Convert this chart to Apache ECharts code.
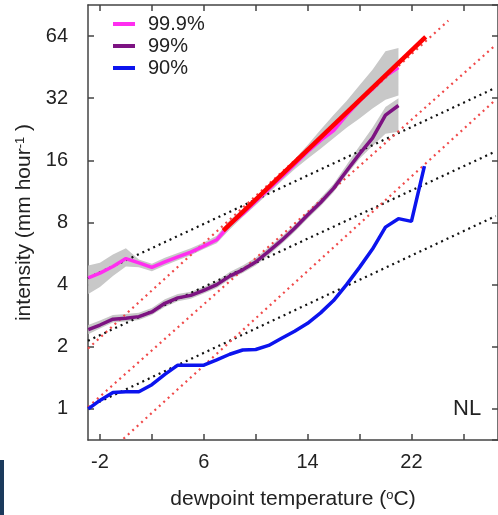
<!DOCTYPE html>
<html>
<head>
<meta charset="utf-8">
<script src="https://cdn.jsdelivr.net/npm/echarts@6/dist/echarts.min.js"></script>
<style>
html,body{margin:0;padding:0;background:#fff;}
#chart{width:498px;height:515px;}
</style>
</head>
<body>
<div id="chart"></div>
<script>
var FONT = 'Liberation Sans, Arial, sans-serif';

// 99.9% percentile
var temp999 = [-2.9, -2, -1, 0, 1, 2, 3, 4, 5, 6, 7, 8, 9, 10, 11, 12, 13, 14, 15, 16, 17, 18, 19, 20, 21];
var p999 = [4.31, 4.55, 4.9, 5.35, 5.1, 4.85, 5.15, 5.45, 5.75, 6.15, 6.6, 7.8, 8.8, 10.1, 11.6, 13.3, 15.3, 17.6, 20.0, 22.3, 26.5, 31, 35.5, 41, 45];
var low999 = [3.6, 3.9, 4.4, 4.9, 4.85, 4.65, 4.95, 5.25, 5.55, 5.95, 6.35, 7.4, 8.5, 9.7, 11.1, 12.7, 14.5, 16.3, 18.2, 20.5, 23, 25.5, 28.5, 31.5, 33];
var upp999 = [4.95, 5.1, 5.6, 6.0, 5.3, 5.05, 5.4, 5.7, 6.0, 6.4, 6.9, 8.2, 9.3, 10.6, 12.2, 14.0, 16.2, 19.0, 22.5, 26.5, 31, 37, 44, 54, 56];

// 99% percentile
var temp99 = [-2.9, -2, -1, 0, 1, 2, 3, 4, 5, 6, 7, 8, 9, 10, 11, 12, 13, 14, 15, 16, 17, 18, 19, 20, 21];
var p99 = [2.42, 2.55, 2.72, 2.75, 2.8, 2.95, 3.25, 3.45, 3.55, 3.75, 4.0, 4.4, 4.72, 5.15, 5.8, 6.55, 7.5, 8.7, 10.0, 11.7, 14.2, 17.2, 20.5, 26.5, 29.5];
var low99 = [2.3, 2.45, 2.62, 2.65, 2.7, 2.85, 3.12, 3.32, 3.42, 3.62, 3.85, 4.25, 4.55, 4.95, 5.55, 6.3, 7.2, 8.35, 9.6, 11.2, 13.6, 16.3, 18.8, 21.5, 22];
var upp99 = [2.55, 2.68, 2.85, 2.88, 2.92, 3.08, 3.4, 3.6, 3.7, 3.9, 4.17, 4.6, 4.95, 5.4, 6.05, 6.85, 7.8, 9.05, 10.5, 12.3, 15.2, 18.8, 23, 29, 32];

// 90% percentile
var temp90 = [-2.9, -2, -1, 0, 1, 2, 3, 4, 5, 6, 7, 8, 9, 10, 11, 12, 13, 14, 15, 16, 17, 18, 19, 20, 21, 22, 23];
var p90 = [1.0, 1.1, 1.2, 1.21, 1.21, 1.31, 1.47, 1.63, 1.63, 1.63, 1.73, 1.84, 1.93, 1.94, 2.03, 2.2, 2.38, 2.6, 2.92, 3.35, 4.0, 4.85, 5.95, 7.6, 8.35, 8.1, 15];

// fitted line on the 99.9% curve
var fitTemp = [7.5, 23.1];
var fitVal = [7.3, 63.5];

// reference scaling lines (black: ~7%/degC, red: ~14%/degC)
var refTemp = [-2.92, 28.5];
var black1 = [4.31, 36];
var black2 = [2.14, 17.7];
var black3 = [1.02, 8.6];
var red1Temp = [-2.92, 24.84];
var red1 = [1.96, 76];
var red2 = [1.02, 58];
var red3 = [0.5, 31.5];

var xTicks = [-2, 2, 6, 10, 14, 18, 22, 26];
var xLabels = [-2, 6, 14, 22];

function pairs(xs, ys) {
	var out = [];
	for (var i = 0; i < xs.length; i++) {
		out.push([xs[i], ys[i]]);
	}
	return out;
}

// grey uncertainty band drawn as one polygon through the axes
function bandSeries(xs, lo, hi) {
	var rows = [];
	for (var i = 0; i < xs.length; i++) {
		rows.push([xs[i], lo[i], hi[i]]);
	}
	return {
		name: '',
		type: 'custom',
		silent: true,
		encode: { x: 0, y: [1, 2] },
		data: rows,
		z: 1,
		renderItem: function (params, api) {
			if (params.dataIndex !== 0) return null;
			var pts = [];
			for (var i = 0; i < xs.length; i++) pts.push(api.coord([xs[i], hi[i]]));
			for (var j = xs.length - 1; j >= 0; j--) pts.push(api.coord([xs[j], lo[j]]));
			return {
				type: 'polygon',
				shape: { points: pts },
				style: { fill: '#c8c8c8', stroke: null }
			};
		}
	};
}

function refLine(xs, ys, color) {
	return {
		name: '',
		type: 'line',
		symbol: 'none',
		silent: true,
		lineStyle: { color: color, width: 2.2, type: [2, 4] },
		data: pairs(xs, ys),
		z: 2
	};
}

var mycharts = echarts.init(document.getElementById('chart'));

var series = [];
series.push(bandSeries(temp999, low999, upp999));
series.push(bandSeries(temp99, low99, upp99));
series.push(refLine(refTemp, black1, '#111'));
series.push(refLine(refTemp, black2, '#111'));
series.push(refLine(refTemp, black3, '#111'));
series.push(refLine(red1Temp, red1, '#f04a4a'));
series.push(refLine(refTemp, red2, '#f04a4a'));
series.push(refLine(refTemp, red3, '#f04a4a'));
series.push({
	name: '99.9%',
	type: 'line',
	symbol: 'none',
	itemStyle: { color: '#ff2ef0' },
	lineStyle: { color: '#ff2ef0', width: 3.5 },
	data: pairs(temp999, p999),
	z: 3
});
series.push({
	name: '99%',
	type: 'line',
	symbol: 'none',
	itemStyle: { color: '#7d1382' },
	lineStyle: { color: '#7d1382', width: 3.5 },
	data: pairs(temp99, p99),
	z: 3
});
series.push({
	name: '90%',
	type: 'line',
	symbol: 'none',
	itemStyle: { color: '#0c14ee' },
	lineStyle: { color: '#0c14ee', width: 3.5 },
	data: pairs(temp90, p90),
	z: 3
});
series.push({
	name: 'fit',
	type: 'line',
	symbol: 'none',
	lineStyle: { color: '#ff0000', width: 4.5 },
	data: pairs(fitTemp, fitVal),
	z: 4
});

var axisLine = { show: true, onZero: false, lineStyle: { color: '#444', width: 1.5 } };
var tickStyle = { color: '#444', width: 1.5 };

var option = {
	animation: false,
	textStyle: { fontFamily: FONT },
	grid: { left: 88, top: 5, width: 412, height: 438 },
	legend: {
		data: ['99.9%', '99%', '90%'],
		orient: 'vertical',
		left: 108,
		top: 9,
		icon: 'rect',
		itemWidth: 22,
		itemHeight: 4,
		itemGap: 2,
		textStyle: { fontSize: 20, color: '#222', fontFamily: FONT, padding: [0, 0, 0, 8] }
	},
	xAxis: [{
		type: 'value',
		min: -2.92,
		max: 28.67,
		position: 'bottom',
		axisLine: axisLine,
		axisTick: { show: true, inside: true, length: 6, lineStyle: tickStyle, customValues: xTicks },
		axisLabel: { customValues: xLabels, fontSize: 20, color: '#222', margin: 12, fontFamily: FONT },
		splitLine: { show: false },
		name: 'dewpoint temperature ({sup|o}C)',
		nameLocation: 'middle',
		nameGap: 49,
		nameTextStyle: {
			fontSize: 21, color: '#222', fontFamily: FONT,
			rich: { sup: { fontSize: 13, verticalAlign: 'top', color: '#222', fontFamily: FONT } }
		}
	}, {
		type: 'value',
		min: -2.92,
		max: 28.67,
		position: 'top',
		axisLine: axisLine,
		axisTick: { show: true, inside: true, length: 6, lineStyle: tickStyle, customValues: xTicks },
		axisLabel: { show: false },
		splitLine: { show: false }
	}],
	yAxis: [{
		type: 'log',
		logBase: 2,
		min: Math.SQRT1_2,
		max: 64 * Math.SQRT2,
		splitNumber: 7,
		position: 'left',
		axisLine: axisLine,
		axisTick: { show: true, inside: true, length: 6, lineStyle: tickStyle },
		axisLabel: {
			fontSize: 20, color: '#222', margin: 20, fontFamily: FONT,
			showMinLabel: false, showMaxLabel: false,
			formatter: function (v) { return Math.round(v); }
		},
		splitLine: { show: false },
		name: 'intensity (mm hour{sup|-1} )',
		nameLocation: 'middle',
		nameGap: 47,
		nameTextStyle: {
			fontSize: 21, color: '#222', fontFamily: FONT,
			rich: { sup: { fontSize: 13, verticalAlign: 'top', color: '#222', fontFamily: FONT } }
		}
	}, {
		type: 'log',
		logBase: 2,
		min: Math.SQRT1_2,
		max: 64 * Math.SQRT2,
		splitNumber: 7,
		position: 'right',
		axisLine: axisLine,
		axisTick: { show: true, inside: true, length: 6, lineStyle: tickStyle },
		axisLabel: { show: false },
		splitLine: { show: false }
	}],
	graphic: [{
		type: 'text',
		left: 453,
		top: 398,
		style: { text: 'NL', fontSize: 22, fill: '#222', font: '22px ' + FONT }
	}, {
		type: 'rect',
		left: 0,
		top: 460,
		shape: { width: 4, height: 55 },
		style: { fill: '#1b3a5c' }
	}],
	series: series
};
mycharts.setOption(option);
</script>
</body>
</html>
